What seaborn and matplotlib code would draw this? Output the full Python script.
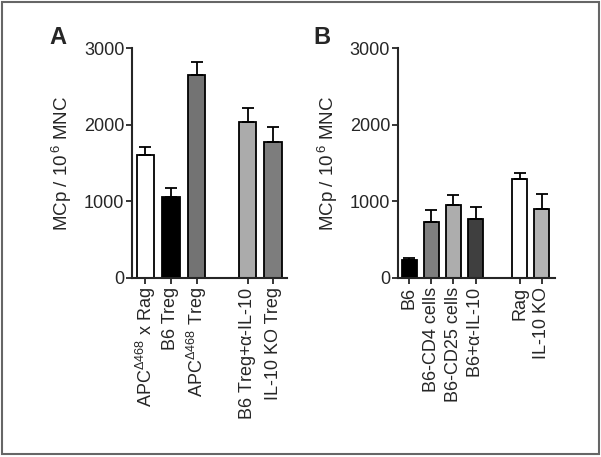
import matplotlib
matplotlib.use('Agg')
import matplotlib.pyplot as plt
import seaborn as sns
from matplotlib.patches import Rectangle

# panel A
a_labels = [r'APC$^{\Delta468}$ x Rag', 'B6 Treg', r'APC$^{\Delta468}$ Treg',
            r'B6 Treg+$\alpha$-IL-10', 'IL-10 KO Treg']
a_values = [1600, 1060, 2650, 2040, 1780]
a_errors = [110, 115, 170, 175, 195]
a_colors = ['#ffffff', '#000000', '#737373', '#ababab', '#7d7d7d']

# panel B
b_labels = ['B6', 'B6-CD4 cells', 'B6-CD25 cells', r'B6+$\alpha$-IL-10',
            'Rag', 'IL-10 KO']
b_values = [230, 735, 950, 765, 1290, 895]
b_errors = [30, 150, 130, 160, 85, 200]
b_colors = ['#000000', '#7f7f7f', '#adadad', '#3f3f3f', '#ffffff', '#b3b3b3']

sns.set_style('ticks')
plt.rcParams['font.family'] = ['Liberation Sans', 'DejaVu Sans']
plt.rcParams['mathtext.fontset'] = 'custom'
plt.rcParams['mathtext.rm'] = 'Liberation Sans'
plt.rcParams['mathtext.it'] = 'Liberation Sans:italic'
plt.rcParams['mathtext.default'] = 'regular'

fig = plt.figure(figsize=(6.01, 4.57), dpi=100)
ax_a = fig.add_axes([0.2196, 0.3917, 0.258, 0.503])
ax_b = fig.add_axes([0.6617, 0.3917, 0.2617, 0.503])


def draw_panel(ax, labels, values, errors, colors, n_left, xmax, letter):
    order = labels[:n_left] + [' '] + labels[n_left:]
    sns.barplot(x=labels, y=values, order=order, hue=labels,
                palette=dict(zip(labels, colors)), edgecolor='black',
                linewidth=1.3, width=0.68, legend=False, ax=ax)
    pos = [order.index(l) for l in labels]
    ax.errorbar(pos, values, yerr=[[0] * len(values), errors], fmt='none',
                ecolor='black', elinewidth=1.3, capsize=4.5, capthick=1.3)
    ax.set_xlim(-0.53, xmax)
    ax.set_ylim(0, 3000)
    ax.set_yticks([0, 1000, 2000, 3000])
    ax.set_xticks(pos)
    ax.set_xticklabels(labels, rotation=90, fontsize=13)
    ax.tick_params(axis='y', labelsize=13, width=1.3, length=4.5, pad=1)
    ax.tick_params(axis='x', width=1.3, length=4.5, pad=2)
    ax.set_xlabel('')
    ax.set_ylabel(r'MCp / 10$^{\,6}$ MNC', fontsize=13.5, labelpad=7)
    sns.despine(ax=ax)
    for s in ['left', 'bottom']:
        ax.spines[s].set_linewidth(1.5)
    ax.text(-0.48, 1.045, letter, transform=ax.transAxes, fontsize=17,
            fontweight='bold', va='center', ha='center')


draw_panel(ax_a, a_labels, a_values, a_errors, a_colors, 3, 5.55, 'A')
draw_panel(ax_b, b_labels, b_values, b_errors, b_colors, 4, 6.6, 'B')

fig.patches.append(Rectangle((0.0033, 0.0066), 0.9933, 0.989, fill=False,
                             edgecolor='#666666', linewidth=1.5,
                             transform=fig.transFigure, figure=fig))

fig.savefig('out.png', dpi=100)
